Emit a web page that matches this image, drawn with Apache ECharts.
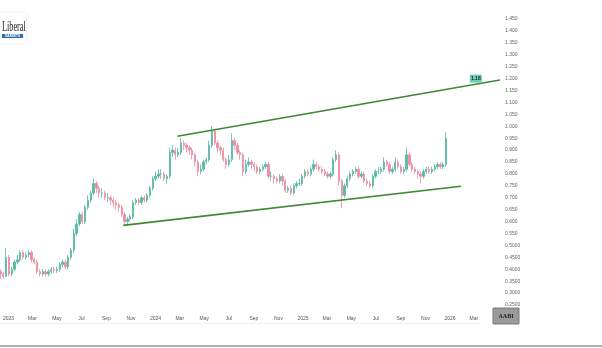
<!DOCTYPE html>
<html>
<head>
<meta charset="utf-8">
<script src="https://cdn.jsdelivr.net/npm/echarts@6/dist/echarts.min.js"></script>
<style>
html,body{margin:0;padding:0;background:#fff;}
#c{width:602px;height:348px;}
</style>
</head>
<body>
<div id="c"></div>
<script>
// ---- data (weekly candles) ----
var startDate = '2022-12-12';
var opens = [0.39,0.38,0.37,0.45,0.38,0.40,0.43,0.44,0.47,0.45,
 0.46,0.47,0.44,0.43,0.39,0.38,0.39,0.38,0.39,0.40,
 0.395,0.40,0.42,0.43,0.41,0.45,0.48,0.55,0.59,0.63,
 0.60,0.66,0.69,0.72,0.76,0.74,0.72,0.72,0.70,0.70,
 0.69,0.68,0.67,0.66,0.63,0.60,0.61,0.62,0.68,0.69,
 0.68,0.70,0.69,0.71,0.74,0.78,0.79,0.80,0.80,0.78,
 0.79,0.89,0.90,0.88,0.89,0.93,0.92,0.91,0.90,0.88,
 0.85,0.81,0.82,0.85,0.86,0.92,0.98,0.93,0.91,0.90,
 0.86,0.84,0.86,0.94,0.92,0.89,0.88,0.81,0.84,0.85,
 0.84,0.83,0.81,0.82,0.83,0.84,0.79,0.79,0.78,0.77,
 0.79,0.77,0.73,0.74,0.72,0.75,0.76,0.76,0.79,0.81,
 0.80,0.82,0.84,0.83,0.82,0.81,0.80,0.79,0.80,0.86,
 0.88,0.77,0.71,0.75,0.78,0.80,0.81,0.82,0.79,0.80,
 0.77,0.76,0.75,0.79,0.81,0.81,0.82,0.85,0.84,0.81,
 0.82,0.85,0.83,0.81,0.82,0.88,0.84,0.82,0.81,0.80,
 0.79,0.81,0.82,0.81,0.82,0.83,0.84,0.83,0.84];
var closes = [0.38,0.37,0.45,0.38,0.40,0.43,0.44,0.47,0.45,0.46,
 0.47,0.44,0.43,0.39,0.38,0.39,0.38,0.39,0.40,0.395,
 0.40,0.42,0.43,0.41,0.45,0.48,0.55,0.59,0.63,0.60,
 0.66,0.69,0.72,0.76,0.74,0.72,0.72,0.70,0.70,0.69,
 0.68,0.67,0.66,0.63,0.60,0.61,0.62,0.68,0.69,0.68,
 0.70,0.69,0.71,0.74,0.78,0.79,0.80,0.80,0.78,0.79,
 0.89,0.90,0.88,0.89,0.93,0.92,0.91,0.90,0.88,0.85,
 0.81,0.82,0.85,0.86,0.92,0.98,0.93,0.91,0.90,0.86,
 0.84,0.86,0.94,0.92,0.89,0.88,0.81,0.84,0.85,0.84,
 0.83,0.81,0.82,0.83,0.84,0.79,0.79,0.78,0.77,0.79,
 0.77,0.73,0.74,0.72,0.75,0.76,0.76,0.79,0.81,0.80,
 0.82,0.84,0.83,0.82,0.81,0.80,0.79,0.80,0.86,0.88,
 0.77,0.71,0.75,0.78,0.80,0.81,0.82,0.79,0.80,0.77,
 0.76,0.75,0.79,0.81,0.81,0.82,0.85,0.84,0.81,0.82,
 0.85,0.83,0.81,0.82,0.88,0.84,0.82,0.81,0.80,0.79,
 0.81,0.82,0.81,0.82,0.83,0.84,0.83,0.84,0.95];
var highs = [0.40,0.39,0.49,0.46,0.41,0.44,0.46,0.48,0.48,0.47,
 0.48,0.48,0.45,0.44,0.40,0.40,0.40,0.40,0.41,0.41,
 0.41,0.43,0.44,0.44,0.46,0.49,0.57,0.61,0.64,0.64,
 0.67,0.71,0.73,0.78,0.77,0.75,0.74,0.73,0.72,0.71,
 0.70,0.69,0.68,0.67,0.64,0.62,0.63,0.69,0.70,0.70,
 0.71,0.71,0.72,0.75,0.79,0.81,0.82,0.82,0.81,0.80,
 0.91,0.92,0.91,0.91,0.95,0.94,0.93,0.92,0.91,0.89,
 0.86,0.84,0.86,0.87,0.94,1.00,0.99,0.94,0.92,0.91,
 0.87,0.88,0.97,0.95,0.93,0.90,0.89,0.86,0.87,0.86,
 0.85,0.84,0.83,0.84,0.85,0.85,0.81,0.80,0.79,0.80,
 0.80,0.78,0.75,0.75,0.76,0.77,0.78,0.80,0.82,0.82,
 0.83,0.86,0.85,0.84,0.83,0.82,0.81,0.81,0.87,0.90,
 0.89,0.78,0.76,0.79,0.81,0.82,0.83,0.83,0.81,0.81,
 0.78,0.77,0.80,0.82,0.83,0.83,0.87,0.86,0.85,0.83,
 0.87,0.86,0.84,0.83,0.91,0.89,0.85,0.83,0.82,0.81,
 0.82,0.83,0.83,0.83,0.84,0.85,0.85,0.85,0.975];
var lows = [0.36,0.36,0.37,0.37,0.37,0.39,0.42,0.43,0.44,0.44,
 0.45,0.43,0.42,0.38,0.37,0.37,0.37,0.37,0.38,0.385,
 0.385,0.39,0.41,0.40,0.40,0.44,0.47,0.54,0.58,0.59,
 0.59,0.65,0.68,0.71,0.72,0.70,0.70,0.69,0.68,0.67,
 0.66,0.65,0.64,0.62,0.585,0.59,0.60,0.61,0.67,0.67,
 0.67,0.68,0.68,0.70,0.73,0.77,0.78,0.78,0.77,0.76,
 0.78,0.87,0.86,0.87,0.88,0.90,0.89,0.88,0.86,0.83,
 0.79,0.80,0.81,0.84,0.85,0.91,0.92,0.89,0.88,0.85,
 0.82,0.83,0.85,0.90,0.88,0.86,0.79,0.80,0.83,0.82,
 0.81,0.80,0.80,0.81,0.82,0.78,0.77,0.76,0.76,0.76,
 0.75,0.72,0.72,0.71,0.71,0.74,0.75,0.75,0.78,0.79,
 0.79,0.81,0.82,0.81,0.80,0.79,0.78,0.78,0.79,0.85,
 0.75,0.656,0.70,0.74,0.77,0.79,0.80,0.78,0.78,0.76,
 0.75,0.74,0.74,0.78,0.80,0.80,0.81,0.83,0.80,0.80,
 0.81,0.82,0.80,0.80,0.81,0.83,0.81,0.80,0.78,0.76,
 0.78,0.80,0.80,0.80,0.81,0.82,0.82,0.82,0.83];

// trendlines: [date, value]
var upperTrend = [['2024-02-24', 0.958], ['2026-05-05', 1.194]];
var lowerTrend = [['2023-10-13', 0.584], ['2026-01-28', 0.748]];
var priceTag = { date: '2026-03-06', value: 1.20, text: '1.18' };

var yMin = 0.25, yMax = 1.45, yStep = 0.05;
var xMin = '2022-12-12', xMax = '2026-05-10';
var monthTicks = ['2023-01-01','2023-03-01','2023-05-01','2023-07-01','2023-09-01','2023-11-01',
 '2024-01-01','2024-03-01','2024-05-01','2024-07-01','2024-09-01','2024-11-01',
 '2025-01-01','2025-03-01','2025-05-01','2025-07-01','2025-09-01','2025-11-01',
 '2026-01-01','2026-03-01'];
var monthNames = ['','Feb','Mar','Apr','May','Jun','Jul','Aug','Sep','Oct','Nov','Dec'];
var tickerText = 'AABI';

// ---- build ----
function ts(s){ var p=s.split('-'); return Date.UTC(+p[0], +p[1]-1, +p[2]); }
var DAY = 86400000;
var t0 = ts(startDate);
var candles = [];
for (var i = 0; i < closes.length; i++) {
  candles.push([t0 + i*7*DAY, opens[i], closes[i], lows[i], highs[i]]);
}
function toPts(arr){ return arr.map(function(p){ return [ts(p[0]), p[1]]; }); }

var chart = echarts.init(document.getElementById('c'), null, {renderer:'canvas'});
var lineColor = '#3b8a30';
chart.setOption({
  animation: false,
  backgroundColor: '#ffffff',
  grid: { left: 0, right: 100, top: 19, bottom: 43 },
  xAxis: {
    type: 'value',
    min: ts(xMin), max: ts(xMax),
    axisLine: { show: false },
    axisTick: { show: false },
    splitLine: { show: false },
    axisLabel: {
      customValues: monthTicks.map(ts),
      margin: 11,
      fontSize: 5,
      color: '#555',
      fontFamily: 'Liberation Sans',
      formatter: function (v) {
        var d = new Date(v);
        var m = d.getUTCMonth();
        return m === 0 ? String(d.getUTCFullYear()) : monthNames[m];
      }
    }
  },
  yAxis: {
    type: 'value',
    position: 'right',
    min: yMin, max: yMax, interval: yStep,
    axisLine: { show: false },
    axisTick: { show: false },
    splitLine: { show: false },
    axisLabel: {
      margin: 3,
      fontSize: 5,
      color: '#666',
      fontFamily: 'Liberation Sans',
      formatter: function (v) {
        var r = Math.round(v*100)/100;
        return r >= 0.55 ? r.toFixed(3) : r.toFixed(4);
      }
    }
  },
  series: [
    {
      type: 'candlestick',
      data: candles,
      barWidth: 1.8,
      itemStyle: {
        color: '#55b8a2', color0: '#ee8b9d',
        borderColor: '#55b8a2', borderColor0: '#ee8b9d',
        borderWidth: 0.8
      }
    },
    {
      type: 'line', data: toPts(upperTrend), symbol: 'none',
      lineStyle: { color: lineColor, width: 1.6 },
      markPoint: {
        symbol: 'rect', symbolSize: [12, 8],
        itemStyle: { color: '#6fd0b4' },
        label: { show: true, color: '#123', fontSize: 5, fontWeight: 'bold', fontFamily: 'Liberation Sans', formatter: priceTag.text },
        data: [{ coord: [ts(priceTag.date), priceTag.value] }]
      }
    },
    {
      type: 'line', data: toPts(lowerTrend), symbol: 'none',
      lineStyle: { color: lineColor, width: 1.6 }
    }
  ],
  graphic: [
    { type: 'rect', shape: { x: 0, y: 345, width: 602, height: 2 }, style: { fill: '#b0b0b0' } },
    { type: 'rect', shape: { x: 0, y: 323, width: 480, height: 1 }, style: { fill: '#f2eeee' } },
    { type: 'rect', shape: { x: 493, y: 308, width: 26, height: 16 }, style: { fill: '#9a9a9a', stroke: '#7a7a7a', lineWidth: 1 } },
    { type: 'text', x: 506, y: 316, style: { text: tickerText, fill: '#1e1e1e', font: 'bold 6px "Liberation Serif"', align: 'center', verticalAlign: 'middle' } },
    { type: 'rect', shape: { x: 0, y: 13, width: 26, height: 30 }, style: { fill: '#fff', shadowBlur: 3, shadowColor: 'rgba(0,0,0,0.12)' } },
    { type: 'text', x: 2, y: 27, scaleX: 0.55, style: { text: 'Liberal', fill: '#222', font: '15px "Liberation Serif"', verticalAlign: 'middle' } },
    { type: 'rect', shape: { x: 2, y: 34, width: 21, height: 4 }, style: { fill: '#2a6fb0' } },
    { type: 'text', x: 12.5, y: 36, style: { text: 'MARKETS', fill: '#fff', font: 'bold 3px "Liberation Sans"', align: 'center', verticalAlign: 'middle' } }
  ]
});
</script>
</body>
</html>
